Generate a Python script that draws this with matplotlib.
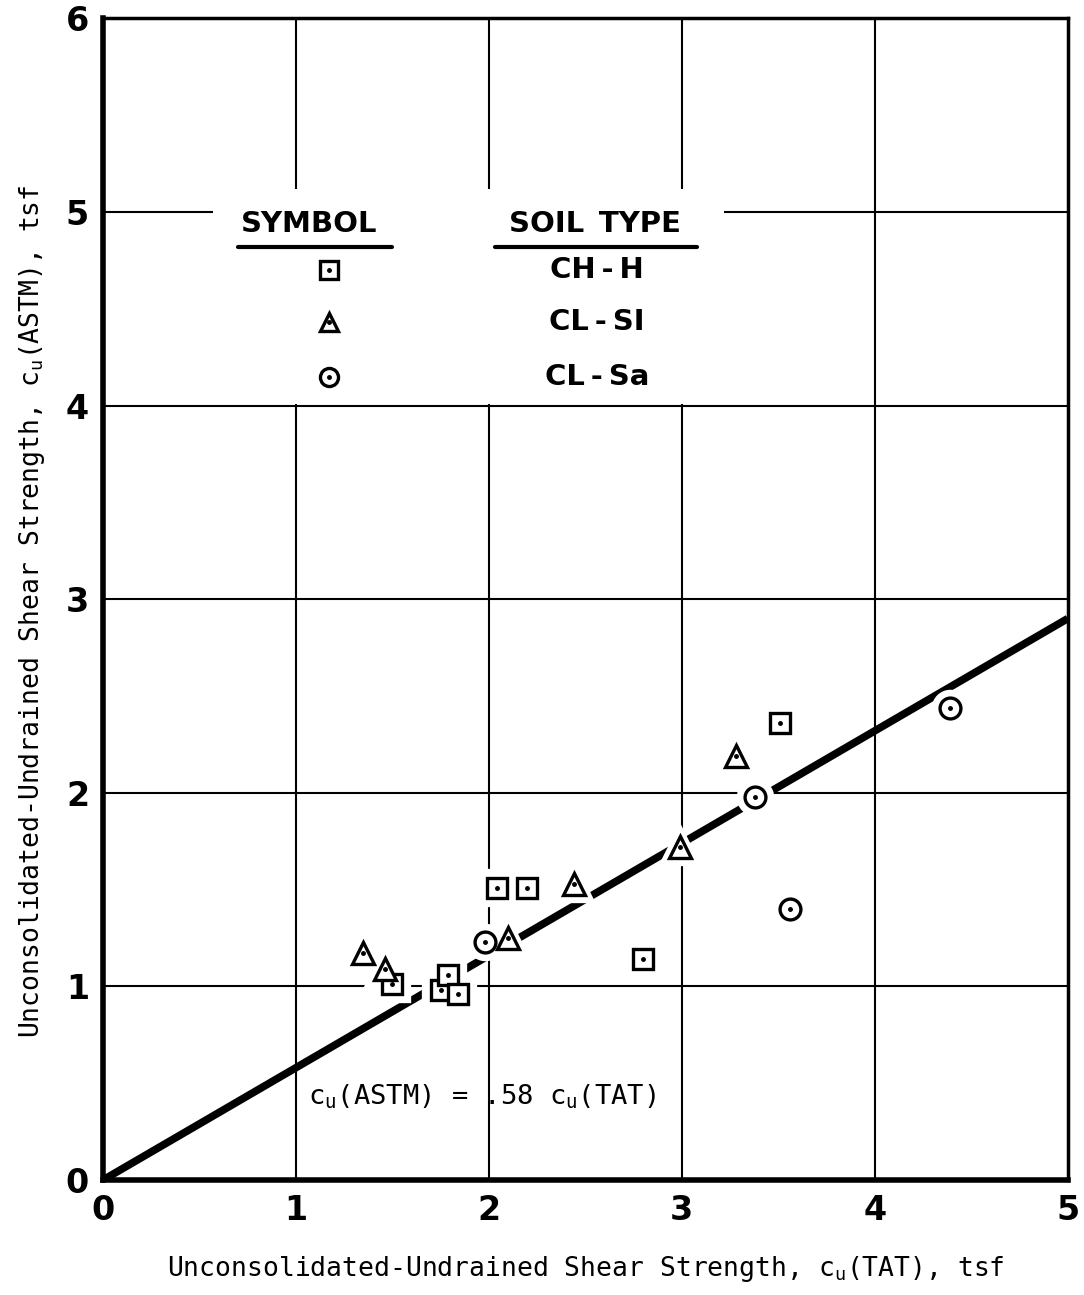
import matplotlib
matplotlib.use("Agg")
import matplotlib.pyplot as plt
import matplotlib.patches as pch
import numpy as np

# CH-H (squares)
ch_x = [1.50, 1.75, 1.79, 1.84, 2.04, 2.20, 2.80, 3.51]
ch_y = [1.01, 0.98, 1.06, 0.96, 1.51, 1.51, 1.14, 2.36]
# CL-SI (triangles)
cls_x = [1.35, 1.46, 2.10, 2.44, 2.99, 3.28]
cls_y = [1.17, 1.09, 1.25, 1.53, 1.72, 2.19]
# CL-Sa (circles)
cla_x = [1.98, 3.38, 3.56, 4.39]
cla_y = [1.23, 1.98, 1.40, 2.44]

slope = 0.58
x_ticks = [0, 1, 2, 3, 4, 5]
y_ticks = [0, 1, 2, 3, 4, 5, 6]

plt.rcParams['mathtext.default'] = 'regular'
mono = 'DejaVu Sans Mono'

fig = plt.figure(figsize=(10.84, 12.95), dpi=100)
ax = fig.add_axes([0.095, 0.0888, 0.890, 0.897])
ax.set_xlim(0, 5)
ax.set_ylim(0, 6)

# grid
for v in x_ticks[1:-1]:
    ax.axvline(v, color='black', lw=1.5, zorder=1)
for v in y_ticks[1:-1]:
    ax.axhline(v, color='black', lw=1.5, zorder=1)

# legend box (blanks grid)
ax.add_patch(pch.Rectangle((0.57, 4.01), 2.65, 1.11, facecolor='white',
                           edgecolor='none', zorder=2))

# fit line
lx = np.array([0, 5])
ax.plot(lx, slope * lx, color='black', lw=5.5, zorder=3, solid_capstyle='butt')

def pts(x, y, m, ms):
    ax.plot(x, y, m, ms=ms + 6, mfc='white', mec='white', mew=6, ls='none', zorder=4)
    ax.plot(x, y, m, ms=ms, mfc='white', mec='black', mew=2.4, ls='none', zorder=5)
    ax.plot(x, y, 'o', ms=2.5, color='black', ls='none', zorder=6)

pts(ch_x, ch_y, 's', 15)
pts(cls_x, cls_y, '^', 16)
pts(cla_x, cla_y, 'o', 15)

# legend
ax.text(1.07, 4.94, 'SYMBOL', fontsize=21, fontweight='bold', ha='center', va='center', zorder=6)
ax.text(2.55, 4.94, 'SOIL\u2002TYPE', fontsize=21, fontweight='bold', ha='center', va='center', zorder=6)
ax.plot([0.70, 1.50], [4.82, 4.82], color='black', lw=3, zorder=6, solid_capstyle='round')
ax.plot([2.03, 3.08], [4.82, 4.82], color='black', lw=3, zorder=6, solid_capstyle='round')
leg_y = [4.70, 4.43, 4.15]
leg_lab = ['CH\u2009-\u2009H', 'CL\u2009-\u2009SI', 'CL\u2009-\u2009Sa']
for yy, m, lab in zip(leg_y, ['s', '^', 'o'], leg_lab):
    ax.plot([1.17], [yy], m, ms=13, mfc='white', mec='black', mew=2.4, zorder=6)
    ax.plot([1.17], [yy], 'o', ms=2.5, color='black', zorder=7)
    ax.text(2.56, yy, lab, fontsize=21, fontweight='bold', ha='center', va='center', zorder=6)

ax.text(1.06, 0.43, 'c$_\\mathregular{u}$(ASTM) = .58 c$_\\mathregular{u}$(TAT)',
        fontsize=19.5, family=mono, ha='left', va='center', zorder=6)

# axes styling
ax.set_xticks(x_ticks)
ax.set_yticks(y_ticks)
ax.set_xticklabels([str(t) for t in x_ticks], fontsize=24, fontweight='bold')
ax.set_yticklabels([str(t) for t in y_ticks], fontsize=24, fontweight='bold')
ax.tick_params(length=0, pad=10)
ax.spines['left'].set_linewidth(4)
ax.spines['bottom'].set_linewidth(4)
ax.spines['top'].set_linewidth(2.5)
ax.spines['right'].set_linewidth(2.5)

ax.set_xlabel('Unconsolidated-Undrained Shear Strength, c$_\\mathregular{u}$(TAT), tsf',
              fontsize=19, family=mono)
ax.set_ylabel('Unconsolidated-Undrained Shear Strength, c$_\\mathregular{u}$(ASTM), tsf',
              fontsize=19, family=mono)
ax.yaxis.set_label_coords(-0.058, 0.49)
ax.xaxis.set_label_coords(0.5, -0.064)

fig.savefig('out.png', dpi=100)
